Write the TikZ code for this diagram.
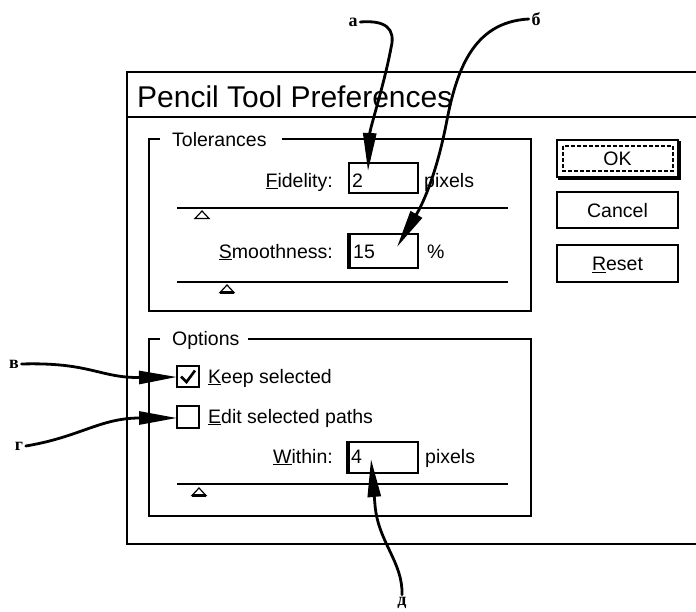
\documentclass[tikz,border=0pt]{standalone}
\usepackage{fontspec}
\setmainfont{Liberation Sans}
\newfontfamily\labfont{Liberation Serif}
\usetikzlibrary{arrows.meta}

\begin{document}
\begin{tikzpicture}[x=1pt,y=-1pt,
  txt/.style={inner sep=0pt, font=\fontsize{19.5}{24}\selectfont},
  frame/.style={line width=1.8pt},
  group/.style={line width=1.5pt},
  slider/.style={line width=1.5pt},
  thumb/.style={line width=1.2pt, fill=white},
  field/.style={draw, line width=1.4pt},
  btn/.style={draw, line width=1.4pt, inner sep=0pt, minimum width=121pt,
    text height=14pt, text depth=0pt, font=\fontsize{19.5}{24}\selectfont},
  letter/.style={inner sep=2.5pt, font=\labfont\bfseries\fontsize{18}{20}\selectfont},
  callout/.style={line width=2.8pt, line cap=round,
    -{Triangle[length=38pt,width=13pt]}}
]
\useasboundingbox (0,0) rectangle (696,611);

% dialog window
\draw[frame] (696,72) -- (127,72) -- (127,544) -- (696,544);
\draw[frame] (127,117) -- (696,117);
\node[inner sep=0pt, anchor=base west, font=\fontsize{30}{34}\selectfont]
  (title) at (137,107) {Pencil Tool Preferences};

% Tolerances group
\draw[group] (160,139) -- (149,139) -- (149,311) -- (531,311) -- (531,139) -- (282,139);
\node[txt, anchor=base west] (tol) at (172,146) {Tolerances};

\node[txt, anchor=base east] (fidlab) at (333,187) {\underline{F}idelity:};
\draw[field] (349,163) rectangle (418,193);
\node[txt, anchor=base west] (fidval) at (352,187) {2};
\node[txt, anchor=base west] (fidunit) at (424,187) {pixels};
\coordinate (fidtip) at (368,171);

\draw[slider] (177,208) -- (508,208);
\draw[thumb] (202,211) -- (195,218.5) -- (209,218.5) -- cycle;

\node[txt, anchor=base east] (smlab) at (333,258) {\underline{S}moothness:};
\draw[field, line width=2.2pt] (348,234) rectangle (418,268);
\draw[line width=1.6pt] (350,235) -- (350,267);
\node[txt, anchor=base west] (smval) at (353,258) {15};
\node[txt, anchor=base west] (smunit) at (427,258) {\%};
\coordinate (smtip) at (397,247);

\draw[slider] (177,282) -- (508,282);
\draw[thumb] (227,285) -- (220,292.5) -- (234,292.5) -- cycle;
\draw[line width=2.4pt] (220,292.5) -- (234,292.5);

% Options group
\draw[group] (160,339) -- (149,339) -- (149,516) -- (531,516) -- (531,339) -- (248,339);
\node[txt, anchor=base west] (opt) at (172,345) {Options};

\draw[line width=2pt] (177,366) rectangle (199,387);
\draw[line width=2.6pt] (181,376.5) -- (186.5,382) -- (195,370.5);
\coordinate (keeptip) at (177,377);
\node[txt, anchor=base west] (keep) at (208,383) {\underline{K}eep selected};

\draw[line width=2pt] (177,406) rectangle (199,428);
\coordinate (edittip) at (177,418);
\node[txt, anchor=base west] (edit) at (208,423) {\underline{E}dit selected paths};

\node[txt, anchor=base east] (winlab) at (333,463) {\underline{W}ithin:};
\draw[field] (347,442) rectangle (418,473);
\draw[line width=1.6pt] (349,443) -- (349,472);
\node[txt, anchor=base west] (winval) at (351,463) {4};
\node[txt, anchor=base west] (winunit) at (425,463) {pixels};
\coordinate (wintip) at (371,459);

\draw[slider] (177,484) -- (508,484);
\draw[thumb] (199,488) -- (192,495.5) -- (206,495.5) -- cycle;
\draw[line width=2.4pt] (192,495.5) -- (206,495.5);

% buttons
\node[btn, minimum height=37pt] (ok) at (617.5,158.5) {OK};
\draw[line width=2pt] (679.5,141) -- (679.5,178.5) -- (558,178.5);
\draw[line width=1.2pt, dash pattern=on 4pt off 2pt] (563,146) rectangle (673,171);
\node[btn, minimum height=36pt] (cancel) at (617.5,210) {Cancel};
\node[btn, minimum height=37pt] (reset) at (617.5,263.5) {\underline{R}eset};

% callout letters
\node[letter] (la) at (353,22) {а};
\node[letter] (lb) at (536,19) {б};
\node[letter] (lv) at (14,364) {в};
\node[letter] (lg) at (19,446) {г};
\node[letter] (ld) at (402,603) {д};

% callout arrows
\draw[callout] (la.east) .. controls (385,20) and (396,28) .. (391,48)
  .. controls (384,85) and (370,128) .. (fidtip);
\draw[callout] (lb.west) .. controls (472,22) and (456,72) .. (446,125)
  .. controls (437,170) and (425,200) .. (smtip);
\draw[callout] (lv.east) .. controls (90,362) and (100,378) .. (keeptip);
\draw[callout] (lg.east) .. controls (80,437) and (100,418) .. (edittip);
\draw[callout] (ld.north) .. controls (403,562) and (378,542) .. (375,505) -- (wintip);
\end{tikzpicture}
\end{document}
